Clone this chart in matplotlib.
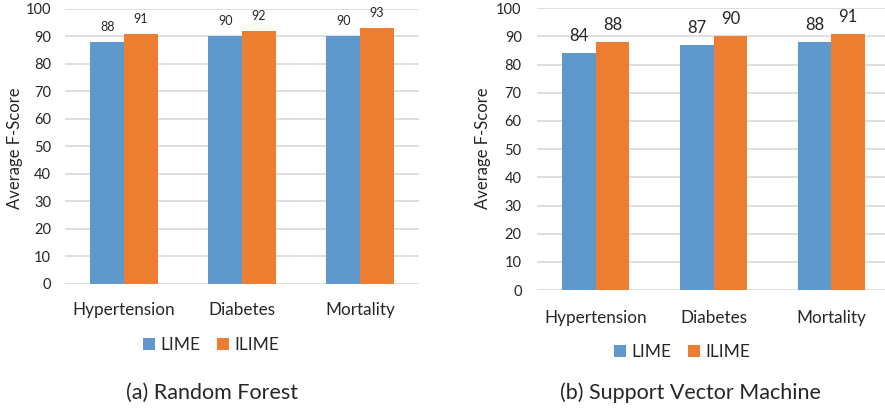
import matplotlib.pyplot as plt
import numpy as np

plt.rcParams['font.family'] = ['Lato', 'DejaVu Sans']

categories = ["Hypertension", "Diabetes", "Mortality"]
series_names = ["LIME", "ILIME"]
rf_lime = [88, 90, 90]
rf_ilime = [91, 92, 93]
svm_lime = [84, 87, 88]
svm_ilime = [88, 90, 91]
yticks = list(range(0, 101, 10))

BLUE = "#5E98CD"
ORANGE = "#ED7D31"
GRID = "#D9D9D9"
TEXT = "#262626"

fig = plt.figure(figsize=(8.85, 4.08), dpi=100)

panels = [
    dict(rect=[0.0734, 0.304, 0.400, 0.674], lime=rf_lime, ilime=rf_ilime,
         tick_fs=10.5, cat_fs=12.3, val_fs=9, val_off=10.8, ypad=10, xpad=13,
         ylab_x=15, legend_x=211, caption="(a) Random Forest", cap_x=212,
         legend_y=345),
    dict(rect=[0.6068, 0.289, 0.399, 0.691], lime=svm_lime, ilime=svm_ilime,
         tick_fs=10.5, cat_fs=12.3, val_fs=12, val_off=12.2, ypad=11, xpad=14,
         ylab_x=483, legend_x=682, caption="(b) Support Vector Machine", cap_x=690,
         legend_y=352),
]

x = np.arange(len(categories))
w = 0.285

for p in panels:
    ax = fig.add_axes(p["rect"])
    b1 = ax.bar(x - w / 2, p["lime"], w, color=BLUE, label=series_names[0], zorder=3)
    b2 = ax.bar(x + w / 2, p["ilime"], w, color=ORANGE, label=series_names[1], zorder=3)
    for bars, vals in ((b1, p["lime"]), (b2, p["ilime"])):
        for bar, v in zip(bars, vals):
            ax.annotate(str(v), (bar.get_x() + bar.get_width() / 2, v),
                        xytext=(0, p["val_off"]), textcoords="offset points",
                        ha="center", va="center", fontsize=p["val_fs"], color=TEXT)
    ax.set_xlim(-0.5, len(categories) - 0.5)
    ax.set_ylim(0, 100)
    ax.set_yticks(yticks)
    ax.set_xticks(x)
    ax.set_xticklabels(categories, fontsize=p["cat_fs"], color=TEXT)
    ax.tick_params(axis="y", length=0, pad=p["ypad"], labelsize=p["tick_fs"], labelcolor=TEXT)
    ax.tick_params(axis="x", length=0, pad=p["xpad"])
    ax.yaxis.grid(True, color=GRID, linewidth=1.2, zorder=0)
    for s in ax.spines.values():
        s.set_visible(False)
    ax.set_axisbelow(True)

    fig.text(p["ylab_x"] / 885, 1 - 148 / 408, "Average F-Score", rotation=90,
             ha="center", va="center", fontsize=12, color=TEXT)
    fig.legend(handles=[b1, b2], labels=series_names, loc="center",
               bbox_to_anchor=(p["legend_x"] / 885, 1 - p["legend_y"] / 408),
               ncol=2, frameon=False, fontsize=12.5, handlelength=0.7,
               handleheight=0.7, handletextpad=0.3, columnspacing=1.0,
               labelcolor=TEXT)
    fig.text(p["cap_x"] / 885, 1 - 393 / 408, p["caption"], ha="center",
             va="center", fontsize=15.5, color=TEXT)

fig.savefig("out.png", dpi=100)
